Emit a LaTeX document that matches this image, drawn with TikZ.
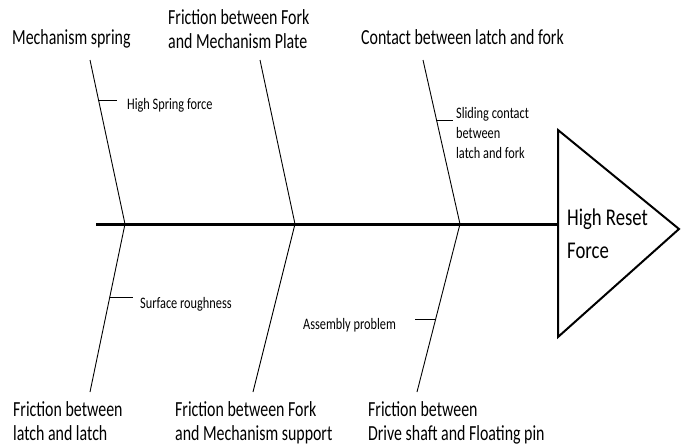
\documentclass[tikz,border=0pt]{standalone}
\usepackage{fontspec}
\setmainfont{Carlito}
\usetikzlibrary{positioning}
\tikzset{
   spine/.style={line width=3pt},
   bone/.style={line width=0.9pt},
   twig/.style={line width=0.9pt},
   head/.style={line width=2pt,line join=miter},
   cause/.style={anchor=base west,inner sep=0pt,align=left,xscale=0.74,font=\fontsize{21.5}{24}\selectfont},
   sub/.style={anchor=base west,inner sep=0pt,align=left,xscale=0.77,font=\fontsize{16}{20}\selectfont},
   effect/.style={anchor=base west,inner sep=0pt,align=left,xscale=0.78,font=\fontsize{24}{33}\selectfont},
}
\begin{document}
\begin{tikzpicture}[x=1pt,y=-1pt]
      \useasboundingbox (0,0) rectangle (681,445);
      \node[cause] (ms) at (12,44) {Mechanism spring};
      \node[cause] (fmp) at (168,48) {Friction between Fork\\and Mechanism Plate};
      \node[cause] (clf) at (361,44) {Contact between latch and fork};
      \node[cause] (fll) at (13,440) {Friction between\\latch and latch};
      \node[cause] (fms) at (175,440) {Friction between Fork\\and Mechanism support};
      \node[cause] (fdf) at (368,440) {Friction between\\Drive shaft and Floating pin};
      \node[effect] (hrf) at (567,258) {High Reset\\Force};
      \node[sub] (hsf) at (127,109) {High Spring force};
      \node[sub] (slc) at (456,158) {Sliding contact\\between\\latch and fork};
      \node[sub] (sr) at (140,308) {Surface roughness};
      \node[sub] (ap) at (303,329) {Assembly problem};
      \coordinate (tail) at (96,224);
      \coordinate (j1) at (125,224);
      \coordinate (j2) at (295,224);
      \coordinate (j3) at (460,224);
      \coordinate (t1) at (90,60);
      \coordinate (t2) at (260,60);
      \coordinate (t3) at (423,60);
      \coordinate (b1) at (90,392);
      \coordinate (b2) at (253,392);
      \coordinate (b3) at (417,392);
      \coordinate (hs1) at (98.5,100);
      \coordinate (hs2) at (117,100);
      \coordinate (sl1) at (437,120);
      \coordinate (sl2) at (453,120);
      \coordinate (sr1) at (110,297);
      \coordinate (sr2) at (133,297);
      \coordinate (ap1) at (436,319);
      \coordinate (ap2) at (415,319);
      \coordinate (tm) at (558,224);
      \coordinate (tl) at (558,130);
      \coordinate (tip) at (679,229);
      \coordinate (bl) at (558,337);
      \draw[spine] (tail) -- (tm);
      \draw[head] (tl) -- (tip) -- (bl) -- cycle;
      \draw[bone] (t1) -- (j1);
      \draw[bone] (t2) -- (j2);
      \draw[bone] (t3) -- (j3);
      \draw[bone] (j1) -- (b1);
      \draw[bone] (j2) -- (b2);
      \draw[bone] (j3) -- (b3);
      \draw[twig] (hs1) -- (hs2);
      \draw[twig] (sl1) -- (sl2);
      \draw[twig] (sr1) -- (sr2);
      \draw[twig] (ap1) -- (ap2);
\end{tikzpicture}
\end{document}
